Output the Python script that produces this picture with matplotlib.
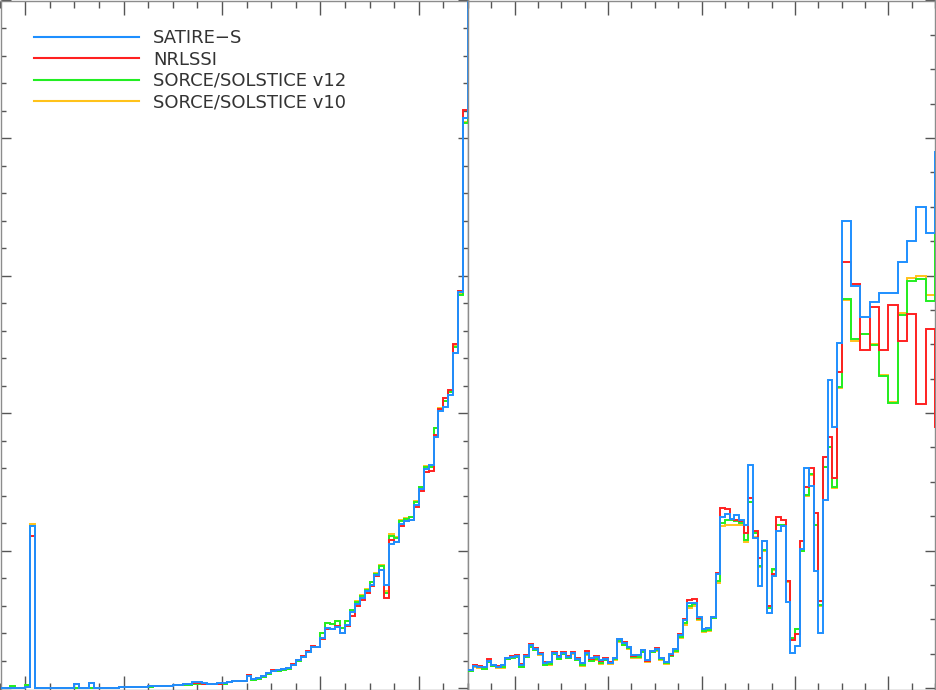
import numpy as np
import matplotlib
matplotlib.use("Agg")
from matplotlib import pyplot as plt
from matplotlib.ticker import MultipleLocator
from matplotlib.lines import Line2D

# wavelength bin edges (nm)
wl_left = np.arange(115, 212)
wl_right = np.concatenate([np.arange(210, 290), np.arange(290, 313, 2)])

# left panel, bins 115..210 nm
satire_left = [0.0, 0.0, 0.0, 0.0, 0.0, 0.01, 1.181, 0.0, 0.0, 0.0,
               0.0, 0.0, 0.0, 0.0, 0.0, 0.029, 0.0, 0.0, 0.038, 0.003,
               0.003, 0.003, 0.003, 0.003, 0.01, 0.006, 0.007, 0.008, 0.010, 0.011,
               0.012, 0.013, 0.015, 0.017, 0.019, 0.022, 0.022, 0.027, 0.027, 0.041,
               0.041, 0.034, 0.033, 0.033, 0.034, 0.036, 0.046, 0.053, 0.055, 0.055,
               0.090, 0.068, 0.072, 0.085, 0.110, 0.126, 0.130, 0.138, 0.143, 0.170,
               0.205, 0.228, 0.265, 0.302, 0.302, 0.362, 0.440, 0.432, 0.447, 0.403,
               0.457, 0.553, 0.609, 0.652, 0.705, 0.749, 0.824, 0.862, 0.749, 1.048,
               1.065, 1.191, 1.213, 1.225, 1.331, 1.449, 1.594, 1.623, 1.824, 2.017,
               2.046, 2.135, 2.437, 2.879, 4.147, 6.0]
nrlssi_left = [0.0, 0.0, 0.0, 0.0, 0.0, 0.01, 1.109, 0.0, 0.0, 0.0,
               0.0, 0.0, 0.0, 0.0, 0.0, 0.027, 0.0, 0.0, 0.036, 0.003,
               0.003, 0.003, 0.003, 0.003, 0.01, 0.006, 0.007, 0.008, 0.010, 0.011,
               0.012, 0.013, 0.015, 0.017, 0.019, 0.022, 0.022, 0.027, 0.027, 0.040,
               0.040, 0.033, 0.032, 0.032, 0.033, 0.036, 0.046, 0.053, 0.055, 0.055,
               0.099, 0.068, 0.072, 0.085, 0.112, 0.135, 0.135, 0.140, 0.145, 0.172,
               0.205, 0.230, 0.268, 0.307, 0.302, 0.360, 0.432, 0.430, 0.452, 0.400,
               0.451, 0.524, 0.597, 0.638, 0.693, 0.742, 0.814, 0.862, 0.657, 1.080,
               1.065, 1.181, 1.218, 1.225, 1.314, 1.437, 1.575, 1.580, 1.840, 2.030,
               2.106, 2.167, 2.505, 2.886, 4.203, 6.0]
v12_left = [0.0, 0.0, 0.012, 0.0, 0.0, 0.025, 1.178, 0.0, 0.0, 0.0,
            0.0, 0.0, 0.0, 0.0, 0.0, 0.004, 0.0, 0.0, 0.004, 0.002,
            0.002, 0.002, 0.002, 0.003, 0.006, 0.005, 0.006, 0.007, 0.009, 0.010,
            0.011, 0.012, 0.014, 0.016, 0.018, 0.020, 0.021, 0.024, 0.025, 0.027,
            0.027, 0.027, 0.027, 0.027, 0.027, 0.033, 0.043, 0.050, 0.052, 0.055,
            0.095, 0.062, 0.068, 0.080, 0.106, 0.122, 0.128, 0.134, 0.136, 0.165,
            0.200, 0.225, 0.262, 0.302, 0.302, 0.403, 0.476, 0.464, 0.488, 0.435,
            0.486, 0.565, 0.626, 0.668, 0.717, 0.771, 0.831, 0.886, 0.693, 1.109,
            1.089, 1.213, 1.232, 1.242, 1.350, 1.459, 1.611, 1.606, 1.890, 2.030,
            2.087, 2.150, 2.480, 2.862, 4.111, 6.0]
v10_left = [0.0, 0.0, 0.010, 0.0, 0.0, 0.022, 1.190, 0.0, 0.0, 0.0,
            0.0, 0.0, 0.0, 0.0, 0.0, 0.004, 0.0, 0.0, 0.004, 0.002,
            0.002, 0.002, 0.002, 0.003, 0.006, 0.005, 0.006, 0.007, 0.009, 0.010,
            0.011, 0.012, 0.014, 0.016, 0.018, 0.020, 0.021, 0.024, 0.025, 0.027,
            0.027, 0.027, 0.027, 0.027, 0.027, 0.033, 0.043, 0.050, 0.052, 0.055,
            0.099, 0.062, 0.068, 0.080, 0.106, 0.122, 0.128, 0.134, 0.136, 0.165,
            0.200, 0.225, 0.262, 0.302, 0.302, 0.403, 0.476, 0.464, 0.488, 0.435,
            0.486, 0.565, 0.630, 0.675, 0.720, 0.775, 0.835, 0.894, 0.705, 1.123,
            1.099, 1.225, 1.235, 1.245, 1.360, 1.462, 1.615, 1.610, 1.895, 2.035,
            2.090, 2.155, 2.485, 2.865, 4.115, 6.0]

# right panel, bins 210..289 nm (1 nm) then 290..312 nm (2 nm)
satire_right = [0.130, 0.162, 0.155, 0.150, 0.198, 0.167, 0.155, 0.167, 0.217, 0.227,
                0.234, 0.167, 0.234, 0.312, 0.288, 0.251, 0.186, 0.191, 0.259, 0.227,
                0.259, 0.227, 0.259, 0.215, 0.186, 0.259, 0.222, 0.227, 0.208, 0.215,
                0.186, 0.217, 0.355, 0.331, 0.302, 0.239, 0.241, 0.278, 0.208, 0.271,
                0.288, 0.217, 0.191, 0.246, 0.283, 0.384, 0.493, 0.616, 0.621, 0.514,
                0.428, 0.440, 0.517, 0.831, 1.244, 1.265, 1.232, 1.256, 1.220, 1.184,
                1.623, 1.091, 0.741, 1.068, 0.543, 0.814, 1.140, 1.176, 0.626, 0.258,
                0.307, 1.012, 1.599, 1.472, 0.849, 0.399, 1.367, 2.242, 1.896, 2.512,
                3.399, 2.921, 2.698, 2.807, 2.874, 2.874, 3.101, 3.254, 3.500, 3.307, 3.900]
nrlssi_right = [0.135, 0.170, 0.158, 0.152, 0.210, 0.170, 0.158, 0.170, 0.222, 0.235,
                0.243, 0.172, 0.238, 0.320, 0.292, 0.255, 0.190, 0.190, 0.265, 0.232,
                0.265, 0.232, 0.262, 0.220, 0.182, 0.267, 0.215, 0.235, 0.196, 0.218,
                0.188, 0.222, 0.358, 0.336, 0.300, 0.236, 0.238, 0.280, 0.200, 0.268,
                0.290, 0.220, 0.190, 0.244, 0.285, 0.392, 0.505, 0.640, 0.645, 0.510,
                0.432, 0.438, 0.515, 0.838, 1.309, 1.301, 1.232, 1.225, 1.213, 1.128,
                1.382, 1.146, 0.947, 1.068, 0.596, 0.831, 1.242, 1.220, 0.778, 0.348,
                0.391, 1.072, 1.466, 1.599, 1.273, 0.633, 1.683, 1.824, 1.531, 2.299,
                3.097, 2.935, 2.457, 2.771, 2.457, 2.787, 2.522, 2.722, 2.065, 2.609, 1.900]
v12_right = [0.128, 0.158, 0.150, 0.138, 0.192, 0.160, 0.150, 0.150, 0.212, 0.222,
             0.228, 0.155, 0.228, 0.300, 0.278, 0.245, 0.170, 0.172, 0.250, 0.215,
             0.250, 0.222, 0.252, 0.205, 0.165, 0.245, 0.200, 0.210, 0.180, 0.205,
             0.180, 0.210, 0.340, 0.315, 0.290, 0.225, 0.225, 0.265, 0.195, 0.262,
             0.275, 0.210, 0.180, 0.235, 0.270, 0.370, 0.475, 0.600, 0.615, 0.500,
             0.412, 0.420, 0.512, 0.778, 1.200, 1.222, 1.220, 1.213, 1.200, 1.080,
             1.357, 1.130, 0.891, 1.007, 0.584, 0.867, 1.188, 1.183, 0.778, 0.362,
             0.432, 1.000, 1.406, 1.558, 1.188, 0.601, 1.611, 1.756, 1.466, 2.186,
             2.831, 2.536, 2.577, 2.498, 2.268, 2.075, 2.710, 2.959, 2.976, 2.814, 3.600]
v10_right = [0.126, 0.156, 0.148, 0.136, 0.190, 0.158, 0.148, 0.148, 0.210, 0.220,
             0.226, 0.152, 0.225, 0.298, 0.275, 0.242, 0.168, 0.170, 0.248, 0.212,
             0.248, 0.220, 0.250, 0.202, 0.162, 0.242, 0.198, 0.208, 0.178, 0.202,
             0.178, 0.208, 0.336, 0.312, 0.287, 0.222, 0.222, 0.262, 0.192, 0.260,
             0.272, 0.208, 0.177, 0.232, 0.266, 0.362, 0.462, 0.585, 0.600, 0.495,
             0.408, 0.416, 0.510, 0.763, 1.176, 1.184, 1.184, 1.184, 1.184, 1.061,
             1.350, 1.100, 0.880, 1.000, 0.580, 0.862, 1.185, 1.180, 0.775, 0.360,
             0.430, 0.995, 1.400, 1.552, 1.185, 0.598, 1.605, 1.750, 1.455, 2.180,
             2.820, 2.525, 2.577, 2.505, 2.280, 2.080, 2.730, 2.983, 3.000, 2.855, 3.600]

labels = ["SATIRE\u2212S", "NRLSSI", "SORCE/SOLSTICE v12", "SORCE/SOLSTICE v10"]
colors = ["#1e8fff", "#ff2020", "#22ee22", "#ffc21a"]

fig = plt.figure(figsize=(9.36, 6.9), dpi=100)
W, H = 936.0, 690.0
ax1 = fig.add_axes([0.5 / W, 0.5 / H, 467.5 / W, 689 / H])
ax2 = fig.add_axes([468 / W, 0.5 / H, 467 / W, 689 / H])

left_sets = [satire_left, nrlssi_left, v12_left, v10_left]
right_sets = [satire_right, nrlssi_right, v12_right, v10_right]
for i in [3, 2, 1, 0]:
    ax1.stairs(left_sets[i], wl_left, baseline=None, color=colors[i],
               lw=1.4, zorder=5 - i)
    ax2.stairs(right_sets[i], wl_right, baseline=None, color=colors[i],
               lw=1.4, zorder=5 - i)

ax1.set_xlim(115, 210)
ax2.set_xlim(210, 310)
ax1.set_ylim(-0.01, 5)
ax2.set_ylim(-0.01, 5)

for ax in (ax1, ax2):
    ax.xaxis.set_major_locator(MultipleLocator(20))
    ax.xaxis.set_minor_locator(MultipleLocator(5))
    ax.yaxis.set_major_locator(MultipleLocator(1))
    for s in ax.spines.values():
        s.set_color("#8c8c8c")
        s.set_linewidth(1.0)
    ax.tick_params(axis="both", which="both", direction="in", color="#555555",
                   width=1.0, labelbottom=False, labelleft=False,
                   labeltop=False, labelright=False)
    ax.tick_params(axis="x", which="major", length=10, top=True, bottom=True)
    ax.tick_params(axis="x", which="minor", length=5, top=True, bottom=True)
    ax.tick_params(axis="y", which="major", length=7)
    ax.tick_params(axis="y", which="minor", length=3.4)

ax1.yaxis.set_minor_locator(MultipleLocator(0.2))
ax2.yaxis.set_minor_locator(MultipleLocator(0.25))
ax1.tick_params(axis="y", which="both", left=True, right=True)
ax2.tick_params(axis="y", which="both", left=False, right=True)

leg_handles = [Line2D([], [], color=c, lw=1.5) for c in colors]
leg = ax1.legend(leg_handles, labels, loc="upper left", frameon=False,
                 bbox_to_anchor=(0.072, 0.958), borderaxespad=0, borderpad=0,
                 handlelength=5.8, handletextpad=0.78, labelspacing=0.18,
                 prop={"family": "DejaVu Sans", "size": 13})
for t in leg.get_texts():
    t.set_color("#333333")

fig.savefig("out.png", dpi=100)
